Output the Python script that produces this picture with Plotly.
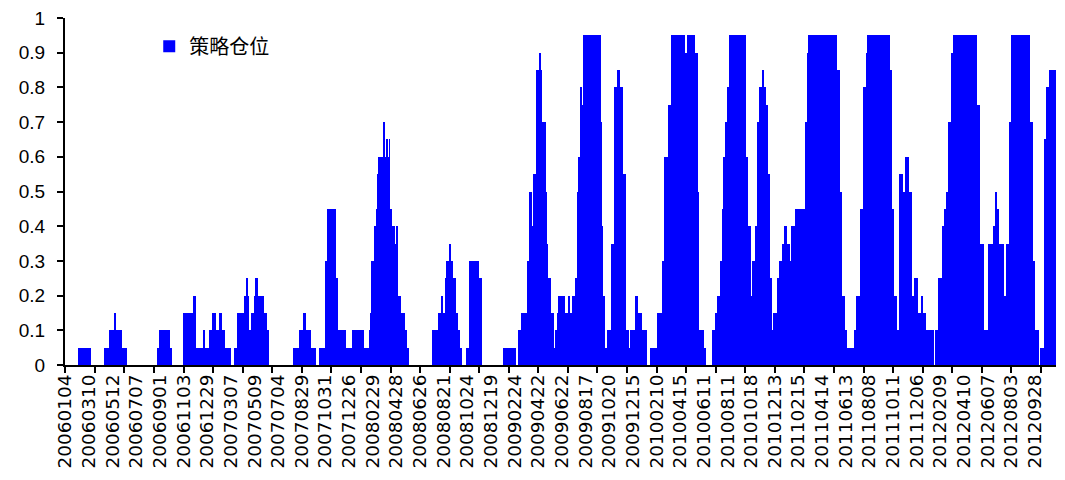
import numpy as np
import plotly.graph_objects as go

# ---- data: strategy position, run-length encoded by trading-day index ----
run_start = [0, 23, 43, 66, 75, 84, 86, 95, 104, 156, 160, 177, 180, 200, 218, 220, 235, 236, 245, 249,
             255, 262, 265, 269, 280, 287, 292, 303, 307, 308, 310, 316, 320, 323, 325, 335, 341, 344, 386, 397,
             404, 406, 416, 423, 431, 440, 441, 444, 451, 453, 458, 461, 474, 487, 504, 515, 517, 519, 523, 526,
             528, 530, 539, 540, 543, 545, 548, 549, 553, 557, 560, 562, 568, 574, 578, 581, 621, 632, 637, 639,
             643, 646, 650, 652, 656, 660, 664, 667, 670, 679, 684, 699, 705, 742, 762, 767, 772, 783, 786, 789,
             793, 797, 803, 804, 806, 812, 814, 816, 821, 826, 830, 833, 835, 845, 852, 854, 858, 864, 866, 869,
             871, 873, 877, 905, 907, 909, 913, 918, 924, 929, 930, 934, 938, 943, 948, 953, 957, 965, 969, 975,
             984, 991, 1002, 1011, 1014, 1020, 1025, 1048, 1052, 1064, 1069, 1072, 1080, 1083, 1095, 1100, 1104, 1108, 1112, 1114,
             1117, 1120, 1123, 1151, 1155, 1160, 1163, 1167, 1172, 1175, 1179, 1181, 1184, 1188, 1191, 1195, 1199, 1205, 1209, 1214,
             1217, 1220, 1222, 1225, 1228, 1234, 1236, 1245, 1248, 1252, 1255, 1258, 1304, 1310, 1314, 1318, 1322, 1326, 1328, 1335,
             1339, 1345, 1350, 1355, 1358, 1395, 1397, 1401, 1406, 1412, 1416, 1422, 1427, 1431, 1437, 1441, 1449, 1451, 1456, 1468,
             1473, 1478, 1484, 1488, 1491, 1495, 1499, 1503, 1542, 1546, 1554, 1561, 1570, 1573, 1575, 1578, 1587, 1592, 1598, 1601,
             1632, 1636, 1640, 1646, 1650, 1656, 1660, 1665, 1667, 1669]
run_value = [0, 0.05, 0, 0.05, 0.1, 0.15, 0.1, 0.05, 0, 0.05, 0.1, 0.05, 0, 0.15, 0.2, 0.05, 0.1, 0.05, 0.1, 0.15,
             0.1, 0.15, 0.1, 0.05, 0, 0.05, 0.15, 0.2, 0.25, 0.2, 0.1, 0.15, 0.2, 0.25, 0.2, 0.15, 0.1, 0, 0.05, 0.1,
             0.15, 0.1, 0.05, 0, 0.05, 0.2, 0.3, 0.45, 0.4, 0.45, 0.25, 0.1, 0.05, 0.1, 0.05, 0.1, 0.15, 0.3, 0.4, 0.45,
             0.55, 0.6, 0.7, 0.6, 0.65, 0.6, 0.65, 0.45, 0.4, 0.35, 0.4, 0.2, 0.15, 0.1, 0.05, 0, 0.1, 0.15, 0.2, 0.15,
             0.25, 0.3, 0.35, 0.3, 0.25, 0.15, 0.1, 0.05, 0, 0.05, 0.3, 0.25, 0, 0.05, 0, 0.1, 0.15, 0.3, 0.5, 0.4,
             0.55, 0.85, 0.9, 0.85, 0.7, 0.5, 0.35, 0.25, 0.15, 0.05, 0.1, 0.15, 0.2, 0.15, 0.2, 0.15, 0.2, 0.25, 0.5, 0.6,
             0.8, 0.75, 0.95, 0.7, 0.4, 0.2, 0.05, 0.1, 0.35, 0.3, 0.8, 0.85, 0.8, 0.55, 0.1, 0.05, 0.1, 0.2, 0.15, 0.1,
             0, 0.05, 0.15, 0.3, 0.6, 0.75, 0.95, 0.9, 0.95, 0.9, 0.5, 0.1, 0.05, 0, 0.1, 0.15, 0.2, 0.3, 0.45, 0.6,
             0.7, 0.8, 0.95, 0.6, 0.4, 0.2, 0.3, 0.4, 0.7, 0.8, 0.85, 0.8, 0.75, 0.55, 0.25, 0.1, 0.15, 0.25, 0.3, 0.35,
             0.4, 0.3, 0.35, 0.3, 0.4, 0.35, 0.45, 0.4, 0.45, 0.7, 0.9, 0.95, 0.85, 0.5, 0.2, 0.1, 0.05, 0, 0.05, 0.1,
             0.2, 0.45, 0.8, 0.9, 0.95, 0.85, 0.45, 0.2, 0.1, 0.55, 0.5, 0.6, 0.5, 0.2, 0.25, 0.15, 0.2, 0.15, 0.1, 0,
             0.1, 0.25, 0.4, 0.45, 0.5, 0.7, 0.9, 0.95, 0.75, 0.35, 0.1, 0.35, 0.4, 0.5, 0.45, 0.35, 0.2, 0.35, 0.7, 0.95,
             0.7, 0.3, 0.1, 0, 0.05, 0.65, 0.8, 0.85, 0.8, 0.85]
n_days = 1676

tick_labels = ["20060104", "20060310", "20060512", "20060707", "20060901", "20061103", "20061229",
               "20070307", "20070509", "20070704", "20070829", "20071031", "20071226",
               "20080229", "20080428", "20080626", "20080821", "20081024", "20081219",
               "20090224", "20090422", "20090622", "20090817", "20091020", "20091215",
               "20100210", "20100415", "20100611", "20100811", "20101018", "20101213",
               "20110215", "20110414", "20110613", "20110808", "20111011", "20111206",
               "20120209", "20120410", "20120607", "20120803", "20120928"]
label_step = 40
tick_mark_step = 50
series_name = "策略仓位"

# expand runs to daily values
lengths = np.diff(run_start + [n_days])
position = np.repeat(run_value, lengths)
x_idx = np.arange(n_days)

fig = go.Figure()
fig.add_trace(go.Bar(x=x_idx, y=position, name=series_name,
                     marker=dict(color="#0000FF", line=dict(width=0)),
                     showlegend=True))

fig.update_layout(
    width=1065, height=480,
    margin=dict(l=65, r=9, t=18, b=115),
    paper_bgcolor="white", plot_bgcolor="white",
    bargap=0,
    showlegend=True,
    legend=dict(x=0.085, y=0.975, xanchor="left", yanchor="top",
                bgcolor="rgba(0,0,0,0)",
                font=dict(family="Noto Sans CJK SC", size=20, color="black")),
    font=dict(family="Liberation Sans, Arial", color="black"),
)
fig.update_xaxes(
    range=[-0.5, n_days - 0.5],
    tickmode="array",
    tickvals=[i * label_step for i in range(len(tick_labels))],
    ticktext=tick_labels,
    tickangle=-90,
    ticks="",
    tickfont=dict(family="DejaVu Sans", size=18.5, color="black"),
    showline=True, linecolor="black", linewidth=2,
    showgrid=False, zeroline=False,
    minor=dict(tickmode="linear", tick0=0, dtick=tick_mark_step, ticks="outside",
               ticklen=6, tickwidth=2, tickcolor="black", showgrid=False),
)
fig.update_yaxes(
    range=[0, 1], dtick=0.1, tick0=0,
    ticks="outside", ticklen=6, tickwidth=2, tickcolor="black",
    ticklabelstandoff=8,
    tickfont=dict(family="Liberation Sans, Arial", size=19, color="black"),
    showline=True, linecolor="black", linewidth=2,
    showgrid=False, zeroline=False,
)

fig.write_html("out.html",
               config={"displayModeBar": False},
               post_script="document.body.style.margin='0';document.body.style.padding='0';")
